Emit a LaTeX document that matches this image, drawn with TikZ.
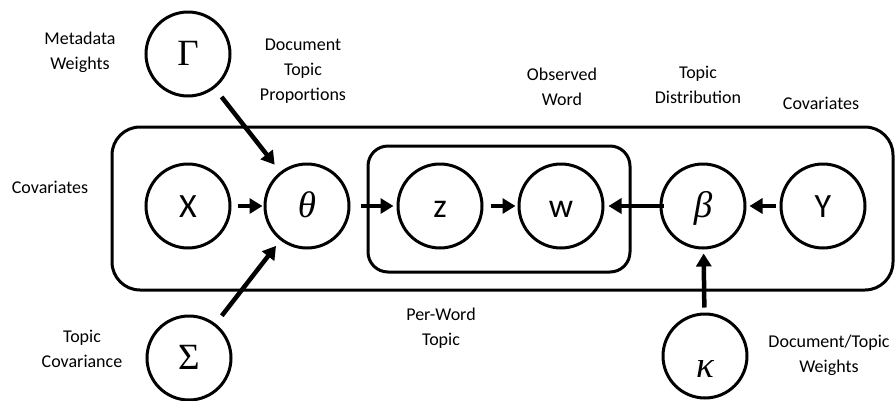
\RequirePackage{fix-cm}
\documentclass[tikz,border=0pt]{standalone}
\usepackage[no-math]{fontspec}
\setmainfont{Carlito}
\newfontfamily\grk{Liberation Serif}
\usetikzlibrary{arrows.meta}

\tikzset{
  var/.style={circle, draw, line width=3pt, minimum size=84pt, inner sep=0pt,
              text height=26pt, text depth=4pt},
  greek/.style={font=\grk\fontsize{37}{40}\selectfont},
  latin/.style={font=\fontsize{34}{40}\selectfont},
  plate/.style={draw, line width=3pt},
  link/.style={line width=4.5pt, -{Triangle[length=13pt,width=15pt]}},
  lbl/.style={align=center, font=\fontsize{18}{25}\selectfont, inner sep=0pt},
}

\begin{document}
\begin{tikzpicture}[x=1pt, y=-1pt]
\useasboundingbox (0,0) rectangle (895,400);

% plates
\draw[plate, rounded corners=28pt] (112,127) rectangle (893,290);
\draw[plate, rounded corners=20pt] (368,146) rectangle (630,272);

% variables
\node[var, greek] (gamma) at (188,54)  {Γ};
\node[var, latin] (x)     at (188,206) {X};
\node[var, greek] (theta) at (307,206) {\itshape θ};
\node[var, latin] (z)     at (440,206) {z};
\node[var, latin] (w)     at (561,206) {w};
\node[var, greek] (beta)  at (703,206) {\itshape β};
\node[var, latin] (y)     at (823,206) {Y};
\node[var, greek] (sigma) at (189,358) {Σ};
\node[var, greek] (kappa) at (705,356) {\raisebox{-10pt}{\itshape κ}};

% dependencies
\draw[link, shorten <=11pt, shorten >=9pt] (gamma) -- (theta);
\draw[link, shorten <=10pt, shorten >=7pt] (sigma) -- (theta);
\draw[link, shorten <=6pt,  shorten >=1pt] (x) -- (theta);
\draw[link, shorten <=10pt, shorten >=3pt] (theta) -- (z);
\draw[link, shorten <=7pt,  shorten >=2pt] (z) -- (w);
\draw[link, shorten <=-4pt, shorten >=4pt] (beta) -- (w);
\draw[link, shorten <=4pt,  shorten >=3pt] (y) -- (beta);
\draw[link, shorten <=5pt,  shorten >=4pt] (kappa) -- (beta);

% labels
\node[lbl] (lmeta)  at (80,52)   {Metadata\\Weights};
\node[lbl] (ldoc)   at (303,71)  {Document\\Topic\\Proportions};
\node[lbl] (lobs)   at (562,87)  {Observed\\Word};
\node[lbl] (ldist)  at (698,85)  {Topic\\Distribution};
\node[lbl] (lcovr)  at (821,103) {Covariates};
\node[lbl] (lcovl)  at (50,187)  {Covariates};
\node[lbl] (ltcov)  at (82,349)  {Topic\\Covariance};
\node[lbl] (lpw)    at (441,328) {Per-Word\\Topic};
\node[lbl] (ldtw)   at (829,355) {Document/Topic\\Weights};
\end{tikzpicture}
\end{document}
